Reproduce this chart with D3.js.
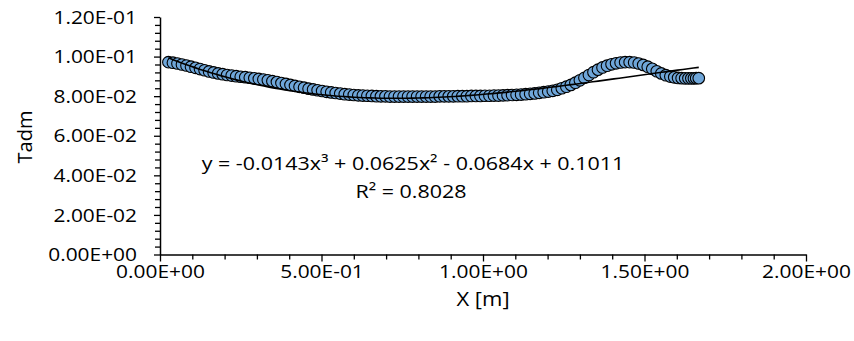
<!DOCTYPE html>
<html>
<head>
<meta charset="utf-8">
<script src="https://cdn.jsdelivr.net/npm/d3@7"></script>
<style>
  html, body { margin: 0; padding: 0; background: #fff; }
  svg { display: block; }
  text { font-family: "Open Sans", "Liberation Sans", sans-serif; fill: #000; }
  .wide { transform-box: fill-box; transform-origin: 50% 50%; transform: scaleX(1.1); }
  .wide-eq { transform-box: fill-box; transform-origin: 50% 50%; transform: scaleX(1.13); }
  .wide-end { transform-box: fill-box; transform-origin: 100% 50%; transform: scaleX(1.1); }
</style>
</head>
<body>
<svg id="chart" width="854" height="341"></svg>
<script>
// Measured position along the channel (m)
const xData = [
  0.026, 0.040, 0.054, 0.068, 0.082, 0.096, 0.110, 0.124, 0.138, 0.152,
  0.166, 0.180, 0.194, 0.208, 0.222, 0.236, 0.250, 0.264, 0.278, 0.292,
  0.306, 0.320, 0.334, 0.348, 0.362, 0.376, 0.390, 0.404, 0.418, 0.432,
  0.446, 0.460, 0.474, 0.488, 0.502, 0.516, 0.530, 0.544, 0.558, 0.572,
  0.586, 0.600, 0.614, 0.628, 0.642, 0.656, 0.670, 0.684, 0.698, 0.712,
  0.726, 0.740, 0.754, 0.768, 0.782, 0.796, 0.810, 0.824, 0.838, 0.852,
  0.866, 0.880, 0.894, 0.908, 0.922, 0.936, 0.950, 0.964, 0.978, 0.992,
  1.006, 1.020, 1.034, 1.048, 1.062, 1.076, 1.090, 1.104, 1.118, 1.132,
  1.146, 1.160, 1.174, 1.188, 1.202, 1.216, 1.230, 1.244, 1.258, 1.272,
  1.286, 1.300, 1.314, 1.328, 1.342, 1.356, 1.370, 1.384, 1.398, 1.412,
  1.426, 1.440, 1.454, 1.468, 1.482, 1.496, 1.510, 1.524, 1.538, 1.552,
  1.566, 1.580, 1.592, 1.604, 1.615, 1.626, 1.636, 1.645, 1.653, 1.660,
  1.668
];
// Dimensionless value Tadm at each position
const tadmData = [
  0.0972, 0.0969, 0.0965, 0.0960, 0.0955, 0.0949, 0.0943, 0.0937, 0.0931, 0.0925,
  0.0920, 0.0915, 0.0911, 0.0907, 0.0904, 0.0901, 0.0898, 0.0896, 0.0893, 0.0890,
  0.0887, 0.0884, 0.0880, 0.0876, 0.0871, 0.0866, 0.0862, 0.0857, 0.0852, 0.0847,
  0.0843, 0.0838, 0.0834, 0.0830, 0.0826, 0.0822, 0.0819, 0.0816, 0.0813, 0.0810,
  0.0808, 0.0806, 0.0804, 0.0803, 0.0802, 0.0801, 0.0800, 0.0799, 0.0799, 0.0798,
  0.0798, 0.0798, 0.0798, 0.0798, 0.0798, 0.0798, 0.0798, 0.0798, 0.0798, 0.0798,
  0.0799, 0.0799, 0.0799, 0.0799, 0.0800, 0.0800, 0.0800, 0.0801, 0.0801, 0.0801,
  0.0802, 0.0802, 0.0803, 0.0803, 0.0804, 0.0805, 0.0806, 0.0807, 0.0808, 0.0810,
  0.0812, 0.0814, 0.0817, 0.0820, 0.0823, 0.0827, 0.0832, 0.0840, 0.0848, 0.0857,
  0.0868, 0.0880, 0.0893, 0.0907, 0.0921, 0.0934, 0.0945, 0.0954, 0.0961, 0.0966,
  0.0970, 0.0972, 0.0972, 0.0970, 0.0965, 0.0958, 0.0949, 0.0938, 0.0926, 0.0915,
  0.0906, 0.0899, 0.0895, 0.0892, 0.0891, 0.0890, 0.0890, 0.0890, 0.0890, 0.0891,
  0.0891
];

// Cubic trendline coefficients (x^3, x^2, x, const) and its labels
const trendCoef = [-0.0143, 0.0625, -0.0684, 0.1011];
const equationLabel = "y = -0.0143x\u00B3 + 0.0625x\u00B2 - 0.0684x + 0.1011";
const r2Label = "R\u00B2 = 0.8028";

// Axes
const xTicks = [0, 0.5, 1.0, 1.5, 2.0];
const xTickLabels = ["0.00E+00", "5.00E-01", "1.00E+00", "1.50E+00", "2.00E+00"];
const xMinorTicks = [0.1, 0.2, 0.3, 0.4, 0.6, 0.7, 0.8, 0.9, 1.1, 1.2, 1.3, 1.4, 1.6, 1.7, 1.8, 1.9];
const yTicks = [0, 0.02, 0.04, 0.06, 0.08, 0.10, 0.12];
const yTickLabels = ["0.00E+00", "2.00E-02", "4.00E-02", "6.00E-02", "8.00E-02", "1.00E-01", "1.20E-01"];
const yMinorTicks = [
  0.004, 0.008, 0.012, 0.016, 0.024, 0.028, 0.032, 0.036, 0.044, 0.048, 0.052, 0.056,
  0.064, 0.068, 0.072, 0.076, 0.084, 0.088, 0.092, 0.096, 0.104, 0.108, 0.112, 0.116
];
const xTitle = "X [m]";
const yTitle = "Tadm";

const svg = d3.select("#chart");
const plot = { left: 160, right: 806, top: 17, bottom: 254.5 };

const x = d3.scaleLinear().domain([0, 2]).range([plot.left, plot.right]);
const y = d3.scaleLinear().domain([0, 0.12]).range([plot.bottom, plot.top]);

// Minor ticks first, majors and axis lines on top
svg.append("g")
  .attr("transform", `translate(${plot.left},0)`)
  .call(d3.axisLeft(y).tickValues(yMinorTicks).tickSize(5).tickSizeOuter(0).tickFormat(""))
  .call(g => g.select(".domain").remove())
  .call(g => g.selectAll("line").attr("stroke", "#000").attr("stroke-width", 1.3));

svg.append("g")
  .attr("transform", `translate(0,${plot.bottom})`)
  .call(d3.axisBottom(x).tickValues(xMinorTicks).tickSize(5).tickSizeOuter(0).tickFormat(""))
  .call(g => g.select(".domain").remove())
  .call(g => g.selectAll("line").attr("stroke", "#000").attr("stroke-width", 1.3));

const yAxis = svg.append("g")
  .attr("transform", `translate(${plot.left},0)`)
  .call(d3.axisLeft(y).tickValues(yTicks).tickSize(6).tickSizeOuter(0).tickPadding(17)
    .tickFormat((d, i) => yTickLabels[i]));
yAxis.select(".domain").attr("stroke", "#000").attr("stroke-width", 1.5);
yAxis.selectAll("line").attr("stroke", "#000").attr("stroke-width", 1.3);
yAxis.selectAll("text")
  .attr("class", "wide-end")
  .style("font-size", "19px");

const xAxis = svg.append("g")
  .attr("transform", `translate(0,${plot.bottom})`)
  .call(d3.axisBottom(x).tickValues(xTicks).tickSize(7).tickSizeOuter(0).tickPadding(3)
    .tickFormat((d, i) => xTickLabels[i]));
xAxis.select(".domain").attr("stroke", "#000").attr("stroke-width", 1.5);
xAxis.selectAll("line").attr("stroke", "#000").attr("stroke-width", 1.3);
xAxis.selectAll("text")
  .attr("class", "wide")
  .style("font-size", "19px");

// Data markers
const points = xData.map((d, i) => ({ x: d, v: tadmData[i] }));
svg.append("g")
  .selectAll("circle")
  .data(points)
  .join("circle")
  .attr("cx", d => x(d.x))
  .attr("cy", d => y(d.v))
  .attr("r", 5.8)
  .attr("fill", "#6fa6d9")
  .attr("stroke", "#000")
  .attr("stroke-width", 1.1);

// Polynomial trendline over the data range
const poly = t => trendCoef[0] * t ** 3 + trendCoef[1] * t ** 2 + trendCoef[2] * t + trendCoef[3];
const xMin = d3.min(xData), xMax = d3.max(xData);
const trendX = d3.range(0, 101).map(k => xMin + (xMax - xMin) * k / 100);
svg.append("path")
  .datum(trendX)
  .attr("fill", "none")
  .attr("stroke", "#000")
  .attr("stroke-width", 1.6)
  .attr("d", d3.line().x(t => x(t)).y(t => y(poly(t))));

// Trendline equation
svg.append("text")
  .attr("class", "wide-eq")
  .attr("x", 413).attr("y", 163).attr("dy", "0.35em")
  .attr("text-anchor", "middle")
  .style("font-size", "19px")
  .text(equationLabel);
svg.append("text")
  .attr("class", "wide-eq")
  .attr("x", 411).attr("y", 191).attr("dy", "0.35em")
  .attr("text-anchor", "middle")
  .style("font-size", "19px")
  .text(r2Label);

// Axis titles
svg.append("text")
  .attr("class", "wide")
  .attr("x", 483).attr("y", 299).attr("dy", "0.35em")
  .attr("text-anchor", "middle")
  .style("font-size", "20px")
  .text(xTitle);
svg.append("text")
  .attr("transform", "translate(25,137) rotate(-90)")
  .attr("dy", "0.35em")
  .attr("text-anchor", "middle")
  .style("font-size", "20px")
  .text(yTitle);
</script>
</body>
</html>
